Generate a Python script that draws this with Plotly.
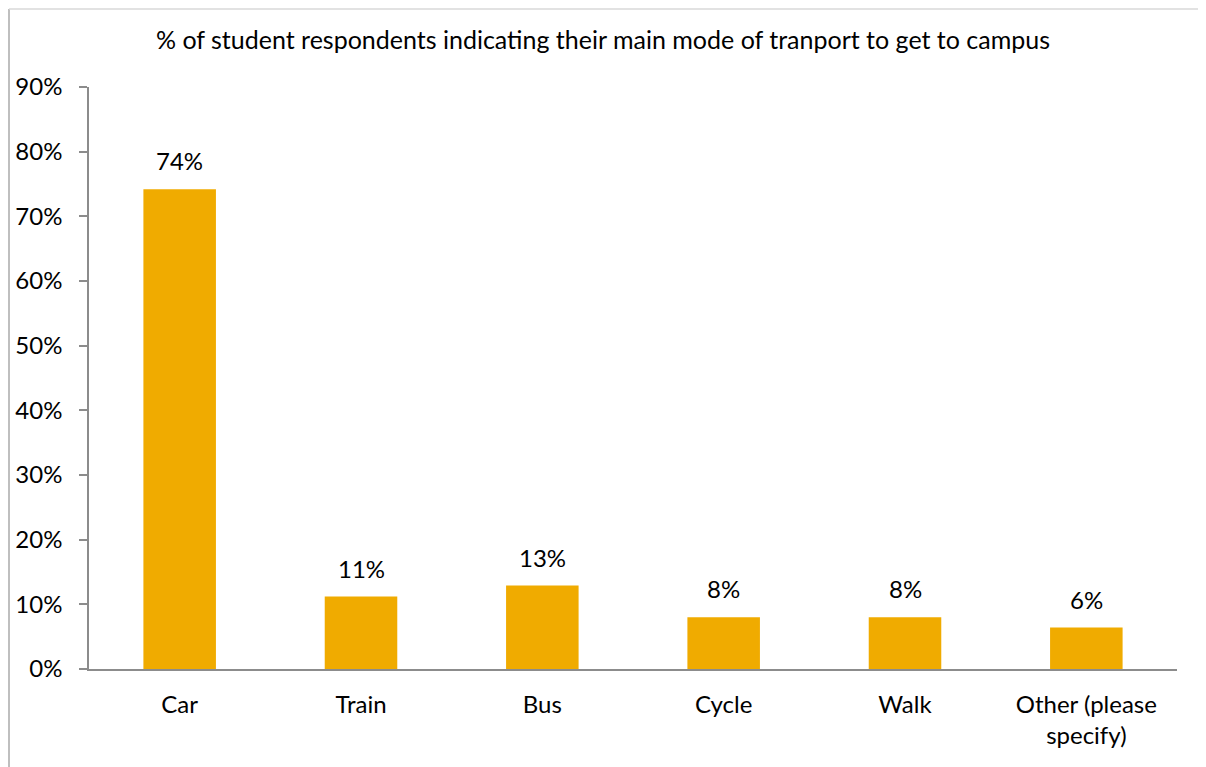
import plotly.graph_objects as go

categories = ["Car", "Train", "Bus", "Cycle", "Walk", "Other (please<br>specify)"]
values = [74.2, 11.2, 12.9, 8.0, 8.0, 6.4]
y_ticks = [0, 10, 20, 30, 40, 50, 60, 70, 80, 90]
y_tick_labels = [f"{v}%" for v in y_ticks]
title_text = "% of student respondents indicating their main mode of tranport to get to campus"

FONT = "Lato, 'Open Sans', sans-serif"
FS = 24
BAR = "#F0AB00"
AX = "#8C8C8C"

fig = go.Figure()
fig.add_trace(go.Bar(
    x=categories, y=values,
    marker=dict(color=BAR, line=dict(width=0)),
    hoverinfo="skip",
))

for c, v in zip(categories, values):
    fig.add_annotation(
        x=c, y=v, text=f"{v:.0f}%", showarrow=False,
        xref="x", yref="y", yanchor="bottom", yshift=12,
        font=dict(family=FONT, size=FS, color="#000000"),
    )

W, H = 1206, 767
OFF = 8  # page body offset
ml, mr, mt, mb = 81, 37, 79, 106
pw, ph = W - ml - mr, H - mt - mb

def px_x(p):
    return (p - OFF - ml) / pw

def px_y(p):
    return (H - mb - (p - OFF)) / ph

# outer chart border (left, top, right)
fig.add_shape(type="line", xref="paper", yref="paper",
              x0=px_x(9), x1=px_x(9), y0=px_y(775), y1=px_y(9),
              line=dict(color="#BFBFBF", width=2))
fig.add_shape(type="line", xref="paper", yref="paper",
              x0=px_x(9), x1=px_x(1203), y0=px_y(9), y1=px_y(9),
              line=dict(color="#D9D9D9", width=1.5))
fig.add_shape(type="line", xref="paper", yref="paper",
              x0=px_x(1203), x1=px_x(1203), y0=px_y(9), y1=px_y(775),
              line=dict(color="#D9D9D9", width=1.5))

fig.update_layout(
    width=W, height=H,
    margin=dict(l=ml, r=mr, t=mt, b=mb, autoexpand=False),
    paper_bgcolor="white", plot_bgcolor="white",
    bargap=0.6,
    showlegend=False,
    font=dict(family=FONT, size=FS, color="#000000"),
    title=dict(text=title_text, x=595 / W, xref="container", xanchor="center",
               y=1 - 32 / H, yanchor="middle",
               font=dict(family=FONT, size=25, color="#000000")),
    xaxis=dict(
        showline=True, linecolor=AX, linewidth=1.5,
        ticks="", showgrid=False, zeroline=False,
        tickfont=dict(family=FONT, size=FS, color="#000000"),
        ticklabelstandoff=13,
    ),
    yaxis=dict(
        range=[0, 90], tickvals=y_ticks, ticktext=y_tick_labels,
        showline=True, linecolor=AX, linewidth=1.5,
        ticks="outside", ticklen=8, tickcolor=AX, tickwidth=1.5,
        showgrid=False, zeroline=False,
        tickfont=dict(family=FONT, size=FS, color="#000000"),
        ticklabelstandoff=12,
    ),
)

fig.write_html("out.html")
